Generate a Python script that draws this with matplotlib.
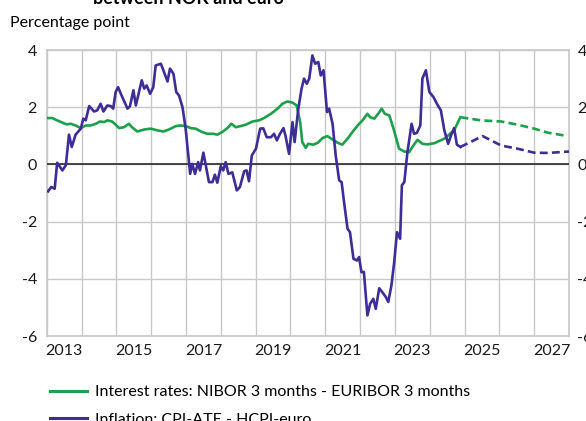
import matplotlib
matplotlib.use('Agg')
import matplotlib.pyplot as plt
import numpy as np

plt.rcParams['font.family'] = ['Lato', 'DejaVu Sans']

### Data (decimal year, percentage point)
rate_x = [2013.04, 2013.16, 2013.30, 2013.45, 2013.57, 2013.69, 2013.83, 2013.98,
          2014.12, 2014.26, 2014.41, 2014.53, 2014.65, 2014.74, 2014.88, 2014.98,
          2015.08, 2015.22, 2015.36, 2015.45, 2015.60, 2015.80, 2015.99, 2016.18,
          2016.35, 2016.51, 2016.71, 2016.85, 2016.99, 2017.14, 2017.28, 2017.43,
          2017.61, 2017.79, 2017.90, 2018.04, 2018.19, 2018.30, 2018.43, 2018.57,
          2018.72, 2018.91, 2019.10, 2019.24, 2019.44, 2019.63, 2019.77, 2019.91,
          2020.06, 2020.18, 2020.28, 2020.34, 2020.44, 2020.51, 2020.66, 2020.79,
          2020.92, 2021.06, 2021.21, 2021.35, 2021.49, 2021.64, 2021.78, 2021.93,
          2022.07, 2022.21, 2022.29, 2022.41, 2022.52, 2022.62, 2022.71, 2022.84,
          2022.96, 2023.12, 2023.27, 2023.41, 2023.53, 2023.65, 2023.79, 2023.94,
          2024.13, 2024.42, 2024.70, 2024.88]
rate_y = [1.62, 1.62, 1.54, 1.46, 1.40, 1.42, 1.36, 1.27,
          1.36, 1.36, 1.42, 1.50, 1.48, 1.54, 1.50, 1.39,
          1.27, 1.30, 1.42, 1.30, 1.15, 1.22, 1.25, 1.19,
          1.15, 1.22, 1.34, 1.36, 1.34, 1.27, 1.25, 1.15,
          1.07, 1.07, 1.04, 1.13, 1.27, 1.42, 1.30, 1.34,
          1.39, 1.50, 1.54, 1.62, 1.77, 1.95, 2.12, 2.20,
          2.16, 2.06, 1.48, 0.78, 0.58, 0.72, 0.69, 0.76,
          0.92, 0.99, 0.87, 0.76, 0.69, 0.90, 1.13, 1.36,
          1.54, 1.77, 1.65, 1.60, 1.77, 1.95, 1.77, 1.71,
          1.25, 0.55, 0.45, 0.43, 0.66, 0.86, 0.72, 0.70,
          0.74, 0.90, 1.19, 1.65]
rate_fc_x = [2024.88, 2025.47, 2026.05, 2026.52, 2027.00, 2027.39, 2027.87]
rate_fc_y = [1.65, 1.54, 1.50, 1.39, 1.25, 1.11, 1.01]

infl_x = [2013.04, 2013.13, 2013.23, 2013.30, 2013.45, 2013.55, 2013.64, 2013.72,
          2013.83, 2013.98, 2014.05, 2014.12, 2014.22, 2014.36, 2014.45, 2014.55,
          2014.63, 2014.74, 2014.84, 2014.91, 2014.98, 2015.05, 2015.14, 2015.32,
          2015.39, 2015.49, 2015.56, 2015.73, 2015.80, 2015.87, 2015.97, 2016.06,
          2016.13, 2016.28, 2016.47, 2016.54, 2016.64, 2016.72, 2016.80, 2016.90,
          2016.99, 2017.12, 2017.18, 2017.26, 2017.35, 2017.40, 2017.50, 2017.66,
          2017.76, 2017.83, 2017.90, 2018.00, 2018.07, 2018.14, 2018.22, 2018.33,
          2018.46, 2018.55, 2018.67, 2018.74, 2018.81, 2018.89, 2019.01, 2019.13,
          2019.22, 2019.32, 2019.44, 2019.53, 2019.61, 2019.70, 2019.80, 2019.86,
          2019.96, 2020.06, 2020.12, 2020.22, 2020.32, 2020.39, 2020.47, 2020.54,
          2020.63, 2020.71, 2020.80, 2020.87, 2020.95, 2021.05, 2021.11, 2021.21,
          2021.30, 2021.40, 2021.47, 2021.54, 2021.64, 2021.71, 2021.81, 2021.91,
          2021.97, 2022.04, 2022.11, 2022.21, 2022.29, 2022.38, 2022.45, 2022.55,
          2022.64, 2022.74, 2022.81, 2022.90, 2022.98, 2023.06, 2023.15, 2023.20,
          2023.27, 2023.36, 2023.48, 2023.55, 2023.63, 2023.73, 2023.79, 2023.89,
          2023.99, 2024.11, 2024.22, 2024.32, 2024.42, 2024.53, 2024.61, 2024.70,
          2024.78, 2024.88]
infl_y = [-0.94, -0.79, -0.85, 0.06, -0.21, -0.03, 1.04, 0.61,
          1.04, 1.25, 1.60, 1.54, 2.04, 1.85, 1.89, 2.12,
          1.85, 2.06, 2.04, 1.95, 2.53, 2.70, 2.44, 1.95,
          2.03, 2.59, 2.06, 2.94, 2.65, 2.76, 2.47, 2.70,
          3.46, 3.52, 2.90, 3.35, 3.17, 2.53, 2.41, 2.00,
          1.25, -0.33, 0.02, -0.33, 0.08, -0.21, 0.41, -0.62,
          -0.62, -0.36, -0.64, -0.06, -0.21, 0.08, -0.33, -0.28,
          -0.91, -0.79, -0.24, -0.21, -0.59, 0.31, 0.55, 1.25,
          1.26, 0.95, 0.95, 1.07, 0.84, 1.07, 1.27, 0.99,
          0.37, 1.48, 0.78, 1.89, 2.65, 3.00, 2.82, 3.00,
          3.81, 3.52, 3.58, 3.11, 3.29, 1.83, 1.95, 1.42,
          0.31, -0.56, -0.62, -1.32, -2.25, -2.37, -3.30, -3.36,
          -3.24, -3.77, -3.76, -5.28, -4.87, -4.70, -5.05, -4.33,
          -4.47, -4.64, -4.81, -4.23, -3.42, -2.37, -2.60, -0.73,
          -0.62, 0.43, 1.42, 1.07, 1.10, 1.36, 3.00, 3.29,
          2.53, 2.35, 2.09, 1.89, 1.19, 0.72, 1.01, 1.27,
          0.69, 0.61]
infl_fc_x = [2024.88, 2025.52, 2026.05, 2026.52, 2027.00, 2027.39, 2028.00]
infl_fc_y = [0.61, 0.99, 0.66, 0.55, 0.41, 0.40, 0.45]

year_labels = ['2013', '2015', '2017', '2019', '2021', '2023', '2025', '2027']
y_ticks = [-6, -4, -2, 0, 2, 4]

green = '#1BA04B'
purple = '#3D2D96'
grid_c = '#c8c8c8'

fig = plt.figure(figsize=(5.86, 4.21), dpi=100)
ax = fig.add_axes([46.7/586, 1 - 336/421, (569 - 46.7)/586, (336 - 50)/421])

ax.plot(rate_x, rate_y, color=green, lw=1.9, zorder=4)
ax.plot(rate_fc_x, rate_fc_y, color=green, lw=1.9, ls=(0, (3, 1.6)), zorder=4)
ax.plot(infl_x, infl_y, color=purple, lw=1.9, zorder=5)
ax.plot(infl_fc_x, infl_fc_y, color=purple, lw=1.9, ls=(0, (3, 1.6)), zorder=5)
ax.axhline(0, color='#1a1a1a', lw=1.1, zorder=3)

ax.set_xlim(2013, 2028)
ax.set_ylim(-6, 4)
ax.set_xticks([int(y) + 0.5 for y in year_labels])
ax.set_xticklabels(year_labels)
ax.set_xticks(np.arange(2013, 2029), minor=True)
ax.set_yticks(y_ticks)
ax.set_yticklabels([str(v) for v in y_ticks])
ax.grid(True, which='minor', axis='x', color=grid_c, lw=1.0)
ax.grid(True, which='major', axis='y', color=grid_c, lw=1.0)
ax.tick_params(which='both', length=0, labelsize=11.5, colors='#1a1a1a')
ax.tick_params(axis='x', pad=6)
ax.tick_params(axis='y', pad=7)
for s in ax.spines.values():
    s.set_color(grid_c)
    s.set_linewidth(1.2)

# right-hand copy of the y labels (cut by the figure edge, as in the reference)
ax2 = ax.twinx()
ax2.set_ylim(-6, 4)
ax2.set_yticks(y_ticks)
ax2.set_yticklabels([str(v) for v in y_ticks])
ax2.tick_params(length=0, labelsize=11.5, pad=6, colors='#1a1a1a')
for s in ax2.spines.values():
    s.set_visible(False)

fig.text(10/586, 1 - 27/421, 'Percentage point', fontsize=11.5, va='baseline', ha='left')
fig.text(93/586, 1 - 3.5/421, 'between NOK and euro', fontsize=13, weight='bold',
         va='baseline', ha='left')

h1, = ax.plot([], [], color=green, lw=2.2)
h2, = ax.plot([], [], color=purple, lw=2.2)
fig.legend([h1, h2],
           ['Interest rates: NIBOR 3 months - EURIBOR 3 months',
            'Inflation: CPI-ATE - HCPI-euro'],
           loc='upper left', bbox_to_anchor=(50/586, 1 - 385/421),
           frameon=False, fontsize=11.5, handlelength=2.3, handletextpad=0.5,
           labelspacing=0.85, borderpad=0, borderaxespad=0)

fig.savefig('out.png', dpi=100)
